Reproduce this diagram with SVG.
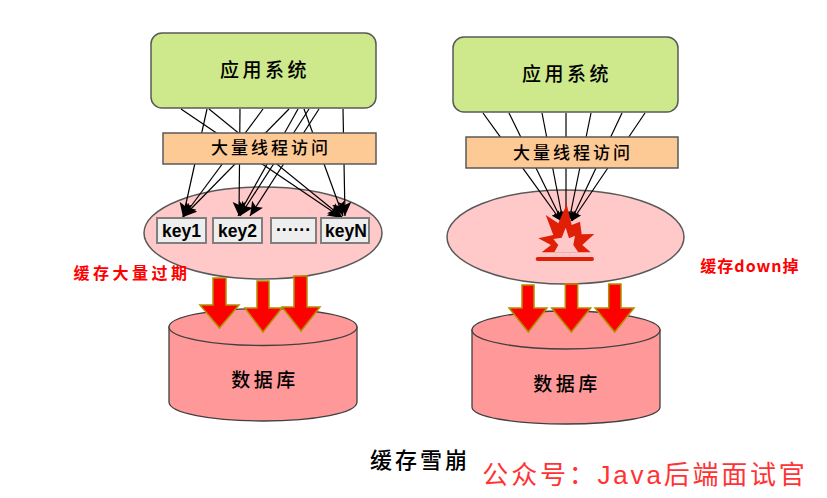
<svg xmlns="http://www.w3.org/2000/svg" width="827" height="498" viewBox="0 0 827 498">
<style>
text{font-family:"Noto Sans CJK SC","Liberation Sans",sans-serif;text-anchor:middle;fill:#000;font-weight:500}
.box{stroke:#595959;stroke-width:1.5}
.green{fill:#cde98c}
.orange{fill:#fdc994}
.pink{fill:#ffc9c9}
.cyl{fill:#ff9999;stroke:#404040;stroke-width:1.3}
.key{fill:#eeeeee;stroke:#7f7f7f;stroke-width:2}
.keyt{font-family:"Liberation Sans",sans-serif;font-weight:700;font-size:17.500px}
.t1{font-size:19px;letter-spacing:3.500px}
.t2{font-size:17px;letter-spacing:3px}
.red{fill:#ff0000;font-size:16px;letter-spacing:3.500px;font-weight:700}
.fat{fill:#ff0000;stroke:#b39000;stroke-width:1.5}
#connectors line{stroke:#000;stroke-width:1.2;marker-end:url(#ah)}
#connectors line.small{marker-end:url(#ah2)}
</style>
<defs>
<marker id="ah" markerUnits="userSpaceOnUse" markerWidth="15" markerHeight="14" refX="14" refY="6.500" orient="auto"><path d="M0 0L14 6.500L0 13L3 6.500Z" fill="#000"/></marker>
<marker id="ah2" markerUnits="userSpaceOnUse" markerWidth="11" markerHeight="10" refX="10" refY="4.500" orient="auto"><path d="M0 0L10 4.500L0 9L2 4.500Z" fill="#000"/></marker>
</defs>
<rect width="827" height="498" fill="#fff"/>
<g id="cache-left"><ellipse class="box pink" cx="263" cy="233" rx="119" ry="46"/></g>
<g id="cache-right"><ellipse class="box pink" cx="565.500" cy="237" rx="118.500" ry="47"/></g>
<g id="db-left">
<path class="cyl" d="M169 327V402C169 413 211 421 263 421S357 413 357 402V327Z"/>
<ellipse class="cyl" cx="263" cy="327" rx="94" ry="18.500"/>
<text class="t1" x="265" y="387">数据库</text>
</g>
<g id="db-right">
<path class="cyl" d="M472 330V407C472 417 514 424 566 424S660 417 660 407V330Z"/>
<ellipse class="cyl" cx="566" cy="330" rx="94" ry="19"/>
<text class="t1" x="567" y="391">数据库</text>
</g>
<g id="app-left"><rect class="box green" x="151" y="33" width="225" height="75" rx="11"/><text class="t1" x="265" y="77">应用系统</text></g>
<g id="app-right"><rect class="box green" x="453" y="37" width="225" height="75" rx="11"/><text class="t1" x="567" y="81">应用系统</text></g>
<g id="connectors">
<line x1="207" y1="109" x2="183" y2="217"/>
<line x1="181" y1="109" x2="342" y2="218"/>
<line x1="209" y1="109" x2="342" y2="217"/>
<line x1="240" y1="109" x2="239" y2="216"/>
<line x1="263" y1="109" x2="183" y2="217"/>
<line x1="289" y1="109" x2="183" y2="217"/>
<line x1="298" y1="109" x2="238" y2="216"/>
<line x1="309" y1="109" x2="240" y2="216"/>
<line x1="319" y1="109" x2="250" y2="216"/>
<line x1="304" y1="109" x2="343" y2="216"/>
<line x1="343" y1="109" x2="345" y2="216"/>
<line class="small" x1="483" y1="113" x2="561" y2="221"/>
<line class="small" x1="509" y1="113" x2="562" y2="221"/>
<line class="small" x1="542" y1="113" x2="563" y2="221"/>
<line class="small" x1="566" y1="113" x2="566" y2="221"/>
<line class="small" x1="591" y1="113" x2="569" y2="221"/>
<line class="small" x1="622" y1="113" x2="571" y2="221"/>
<line class="small" x1="645" y1="113" x2="572" y2="221"/>
</g>
<g id="threads-left"><rect class="box orange" x="163" y="133" width="213" height="31"/><text class="t2" x="271" y="154">大量线程访问</text></g>
<g id="threads-right"><rect class="box orange" x="466" y="137" width="212" height="31"/><text class="t2" x="573" y="159">大量线程访问</text></g>
<g id="key1"><rect class="key" x="157" y="218" width="49" height="25"/><text class="keyt" x="181.500" y="237">key1</text></g>
<g id="key2"><rect class="key" x="213" y="218" width="49" height="25"/><text class="keyt" x="237.500" y="237">key2</text></g>
<g id="keydots"><rect class="key" x="271" y="218" width="45" height="25"/><text class="keyt" x="293.500" y="236">······</text></g>
<g id="keyN"><rect class="key" x="321" y="218" width="48" height="25"/><text class="keyt" x="346" y="237">keyN</text></g>
<g id="flood-left">
<path class="fat" d="M213 278H226V305H239L219.500 328L200 305H213Z"/>
<path class="fat" d="M257 281H269V308H282L263 332L245 308H257Z"/>
<path class="fat" d="M294 276H307V307H320L301 331L282 307H294Z"/>
</g>
<g id="flood-right">
<path class="fat" d="M522 285H534V308H547L528.300 332L509 308H522Z"/>
<path class="fat" d="M565.300 284H577.700V308H590.700L571.300 332L551.700 308H565.300Z"/>
<path class="fat" d="M608.700 284H621V308H634L614.700 332L595 308H608.700Z"/>
</g>
<g id="explosion">
<path fill="#e02006" d="M566.700 204.300L571.700 225L580 221.700L581.700 234.300L594.300 234L582.300 245L590.700 252.300H541.700L551 245L538.300 238.300L553.300 235L545.700 215L558.300 223.300Z"/>
<path fill="#ffc9c9" d="M565.700 227.700L569 238.300L575 235.700L573.300 245L578.300 252.300H554.300L558.300 245L553.300 239L561.700 237.700Z"/>
<rect x="535.700" y="257" width="58.300" height="4" rx="2" fill="#e02006"/>
</g>
<text class="red" x="132" y="279">缓存大量过期</text>
<text class="red" x="750" y="272" style="letter-spacing:1px">缓存down掉</text>
<text x="420" y="468" style="font-size:22px;letter-spacing:3px">缓存雪崩</text>
<text x="645" y="484" style="font-size:26px;letter-spacing:2.800px;fill:#ff3333;font-weight:400;font-family:'Liberation Sans','Noto Sans CJK SC',sans-serif">公众号：Java后端面试官</text>
</svg>
